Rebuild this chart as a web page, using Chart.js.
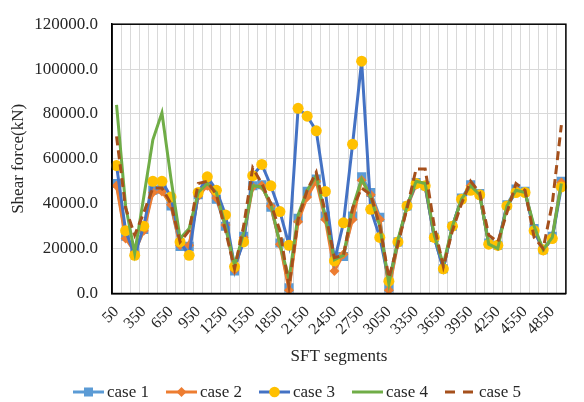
<!DOCTYPE html>
<html><head><meta charset="utf-8">
<style>html,body{margin:0;padding:0;background:#fff;}#wrap{width:584px;height:402px;}</style>
<script src="https://cdn.jsdelivr.net/npm/chart.js@4.4.0/dist/chart.umd.min.js"></script>
</head><body><div id="wrap"><canvas id="c" width="584" height="402"></canvas></div>
<script>
const categories = ['50','150','250','350','450','550','650','750','850','950','1050','1150','1250','1350','1450','1550','1650','1750','1850','1950','2050','2150','2250','2350','2450','2550','2650','2750','2850','2950','3050','3150','3250','3350','3450','3550','3650','3750','3850','3950','4050','4150','4250','4350','4450','4550','4650','4750','4850','4950'];
const case1 = [49000,25500,19000,28500,46000,46500,39000,21000,21000,44000,48500,42000,30000,10000,25500,48000,48500,38500,22500,2500,33500,45500,51000,34500,16500,16500,34500,52000,45000,34000,2500,23000,39000,49500,48000,25000,11000,30000,42500,48500,44500,22500,21500,39500,46500,45500,29000,19500,25500,50000];
const case2 = [48000,24500,18500,28000,45000,45500,39500,21500,21500,43500,48000,42500,30500,10500,25000,47500,48000,39000,22000,1500,32000,43000,50000,33000,10000,17500,33000,50500,44000,33000,1500,22500,38500,48500,47500,25500,11500,29500,42000,48000,44000,22000,21000,39000,46000,45000,28500,19000,25000,49500];
const case3 = [57000,28000,17000,30000,50000,50000,43000,23000,17000,45000,52000,46000,35000,12000,23000,52500,57500,48000,36500,21500,82500,79000,72500,45500,14500,31500,66500,103500,37500,25000,5500,23000,39000,49000,48000,25000,11000,30000,42000,46000,44000,22000,21500,39000,45000,45000,28000,19500,24500,47500];
const case4 = [84000,39000,18000,43000,68500,80500,51000,24500,29000,45000,49000,45000,30000,12500,27000,48000,47500,40000,22000,6500,35000,46000,52500,34000,15000,17000,38000,51000,43000,30000,4300,24000,39000,50000,49000,26000,13000,30000,42000,48000,44000,22000,20000,39000,46000,45000,30000,19500,25000,49000];
const case5 = [70000,38000,26000,36000,47000,47000,40000,23000,28000,49000,50000,44000,28000,11000,30000,56000,49000,40000,28000,3000,33000,46000,54000,36000,16000,17000,38000,47000,44000,30000,7000,22000,38000,55500,55500,30000,12000,28000,40000,50000,45000,26000,23000,36000,49000,46000,25000,20000,40000,75000];
const seriesNames = ['case 1','case 2','case 3','case 4','case 5'];
const yMin = 0, yMax = 120000, yStep = 20000;
const xLabelEvery = 3;

const FONT = 'Liberation Serif, Times New Roman, serif';
const TXT = '#262626';
const C1 = '#5B9BD5', C2 = '#ED7D31', C3L = '#4472C4', C3M = '#FFC000', C4 = '#70AD47', C5 = '#A5501C';

const legendDefs = [
  {line: C1, marker: 'rect', mc: C1, dash: []},
  {line: C2, marker: 'diamond', mc: C2, dash: []},
  {line: C3L, marker: 'circle', mc: C3M, dash: []},
  {line: C4, marker: null, dash: []},
  {line: C5, marker: null, dash: [10, 8]}
];

const frame = {
  id: 'frame',
  afterDraw(chart) {
    const {ctx, chartArea: a} = chart;
    ctx.save();
    ctx.strokeStyle = '#000';
    ctx.lineWidth = 1.5;
    ctx.strokeRect(a.left, a.top, a.right - a.left, a.bottom - a.top);
    ctx.font = '17px ' + FONT;
    ctx.textBaseline = 'middle';
    const lineLen = 31, gapT = 3, gapItem = 17;
    const widths = seriesNames.map(n => lineLen + gapT + ctx.measureText(n).width);
    const total = widths.reduce((s, w) => s + w, 0) + gapItem * (widths.length - 1);
    let x = 297 - total / 2;
    const y = 392;
    seriesNames.forEach((n, i) => {
      const d = legendDefs[i];
      ctx.beginPath();
      ctx.setLineDash(d.dash);
      ctx.strokeStyle = d.line;
      ctx.lineWidth = 3;
      ctx.moveTo(x, y); ctx.lineTo(x + lineLen, y);
      ctx.stroke();
      ctx.setLineDash([]);
      const cx = x + lineLen / 2;
      ctx.fillStyle = d.mc;
      if (d.marker === 'rect') ctx.fillRect(cx - 4.5, y - 4.5, 9, 9);
      if (d.marker === 'diamond') { ctx.beginPath(); ctx.moveTo(cx, y - 5); ctx.lineTo(cx + 5, y); ctx.lineTo(cx, y + 5); ctx.lineTo(cx - 5, y); ctx.closePath(); ctx.fill(); }
      if (d.marker === 'circle') { ctx.beginPath(); ctx.arc(cx, y, 5.3, 0, Math.PI * 2); ctx.fill(); }
      ctx.fillStyle = TXT;
      ctx.textAlign = 'left';
      ctx.fillText(n, x + lineLen + gapT, y + 1);
      x += widths[i] + gapItem;
    });
    ctx.restore();
  }
};

new Chart(document.getElementById('c'), {
  type: 'line',
  data: {
    labels: categories,
    datasets: [
      {label: seriesNames[0], data: case1, borderColor: C1, backgroundColor: C1, borderWidth: 3, pointStyle: 'rect', pointRadius: 6.4, pointBorderWidth: 0, pointBackgroundColor: C1, order: 4},
      {label: seriesNames[1], data: case2, borderColor: C2, backgroundColor: C2, borderWidth: 3, pointStyle: 'rectRot', pointRadius: 5, pointBorderWidth: 0, pointBackgroundColor: C2, order: 3},
      {label: seriesNames[2], data: case3, borderColor: C3L, backgroundColor: C3M, borderWidth: 3, pointStyle: 'circle', pointRadius: 5.5, pointBorderWidth: 0, pointBackgroundColor: C3M, order: 2},
      {label: seriesNames[3], data: case4, borderColor: C4, backgroundColor: C4, borderWidth: 3, pointRadius: 0, order: 1},
      {label: seriesNames[4], data: case5, borderColor: C5, backgroundColor: C5, borderWidth: 3, borderDash: [9, 5], pointRadius: 0, order: 0}
    ]
  },
  options: {
    responsive: false,
    animation: false,
    devicePixelRatio: 1,
    layout: {padding: {top: 17, right: 6, bottom: 35, left: 0}},
    plugins: {legend: {display: false}, tooltip: {enabled: false}},
    elements: {line: {tension: 0}},
    scales: {
      x: {
        offset: true,
        grid: {offset: true, color: '#d9d9d9', lineWidth: 1, drawTicks: false},
        border: {display: true, color: '#000', width: 1.5},
        ticks: {
          autoSkip: false, maxRotation: 45, minRotation: 45, padding: 9,
          color: TXT, font: {family: FONT, size: 16},
          callback: function (v, i) { return i % xLabelEvery === 0 ? this.getLabelForValue(v) : ''; }
        },
        title: {display: true, text: 'SFT segments', color: TXT, font: {family: FONT, size: 17}, padding: {top: 0, bottom: 0}},
        afterFit: s => { s.height = 73.5; }
      },
      y: {
        min: yMin, max: yMax,
        grid: {color: '#d9d9d9', lineWidth: 1, drawTicks: false},
        border: {display: true, color: '#000', width: 1.5},
        ticks: {stepSize: yStep, padding: 14, color: TXT, font: {family: FONT, size: 17}, callback: v => Number(v).toFixed(1)},
        title: {display: true, text: 'Shear force(kN)', color: TXT, font: {family: FONT, size: 17}, padding: {top: 8, bottom: 0}},
        afterFit: s => { s.width = 112; }
      }
    }
  },
  plugins: [frame]
});
</script></body></html>
